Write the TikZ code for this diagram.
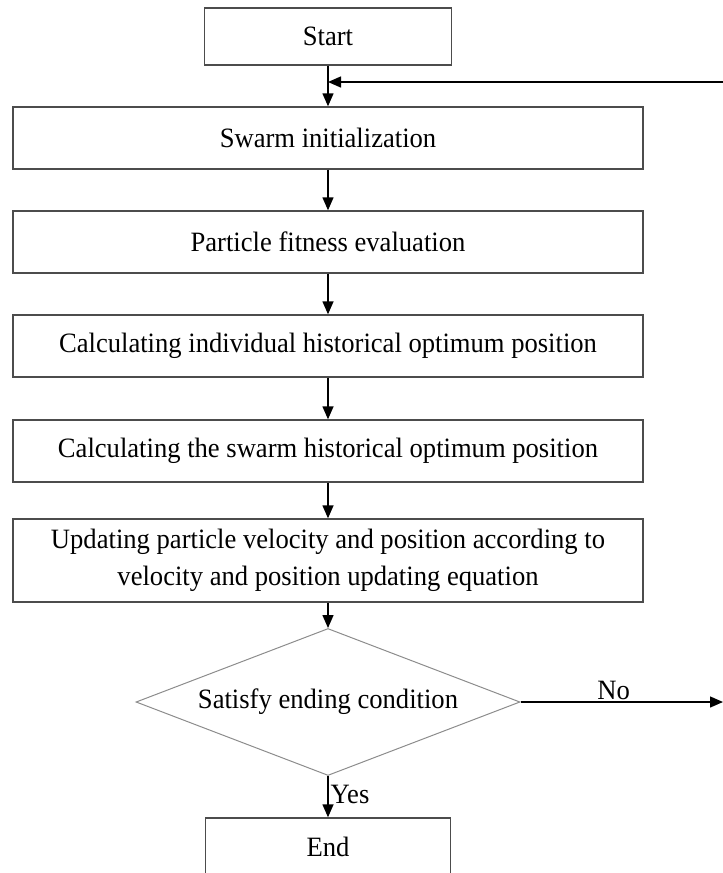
\documentclass[tikz,border=0pt]{standalone}
\usepackage{fontspec}
\setmainfont{Liberation Serif}[FakeStretch=0.95]
\usetikzlibrary{arrows.meta,shapes.geometric}
\tikzset{
  stepbox/.style={draw=black!70, line width=1.4pt, inner sep=0pt, align=center,
    font=\fontsize{28}{37}\selectfont},
  testbox/.style={draw=black!45, line width=1pt, shape=diamond, inner sep=0pt,
    aspect=2.6, minimum width=384, minimum height=147, font=\fontsize{28}{31}\selectfont},
  flow/.style={->, line width=1.4pt}
}
\begin{document}
\begin{tikzpicture}[x=1pt,y=-1pt,>={Triangle[length=13pt,width=11pt]}]
		\useasboundingbox (0,0) rectangle (723,873);
		\node[stepbox, minimum width=247, minimum height=57] (start) at (328,36.5) {Start};
		\node[stepbox, minimum width=630, minimum height=62] (init) at (328,138) {Swarm initialization};
		\node[stepbox, minimum width=630, minimum height=62] (fit) at (328,242) {Particle fitness evaluation};
		\node[stepbox, minimum width=630, minimum height=62] (pbest) at (328,346) {Calculating individual historical optimum position};
		\node[stepbox, minimum width=630, minimum height=62] (gbest) at (328,451) {Calculating the swarm historical optimum position};
		\node[stepbox, minimum width=630, minimum height=83] (update) at (328,560.5) {Updating particle velocity and position according to\\velocity and position updating equation};
		\node[testbox] (cond) at (328,702) {Satisfy ending condition};
		\node[stepbox, minimum width=245, minimum height=57] (stop) at (328,846.5) {End};
		\coordinate (back) at (723,82);
		\coordinate (noend) at (723,702);
		% main flow
		\draw[flow] (start) -- (init);
		\draw[flow] (init) -- (fit);
		\draw[flow] (fit) -- (pbest);
		\draw[flow] (pbest) -- (gbest);
		\draw[flow] (gbest) -- (update);
		\draw[flow] (update) -- (cond);
		\draw[flow] (cond) -- node[right, pos=0.45, inner sep=2pt, font=\fontsize{28}{31}\selectfont] {Yes} (stop);
		% loop back
		\draw[flow] (cond.east) -- node[above, pos=0.46, inner sep=2pt, font=\fontsize{28}{31}\selectfont] {No} (noend);
		\draw[flow] (back) -- (back -| start.south);
\end{tikzpicture}
\end{document}
